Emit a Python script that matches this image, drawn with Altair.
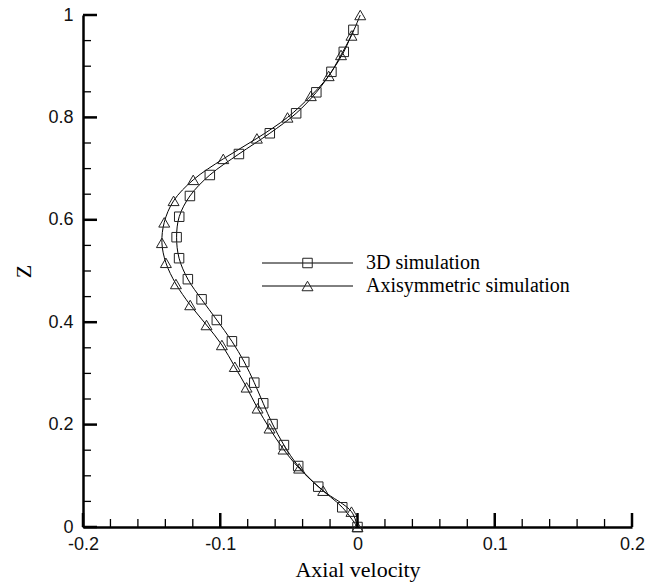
import altair as alt
import pandas as pd

# 3D simulation (squares)
z_3d = [0.0, 0.0385, 0.0788, 0.1191, 0.160, 0.201, 0.2416, 0.2819, 0.3223, 0.3627,
        0.4043, 0.4447, 0.484, 0.525, 0.566, 0.606, 0.6465, 0.6875, 0.7285, 0.769,
        0.808, 0.849, 0.889, 0.928, 0.971]
u_3d = [0.0, -0.0111, -0.0286, -0.0432, -0.0536, -0.0619, -0.0687, -0.0752, -0.0825, -0.0915,
        -0.1025, -0.1136, -0.1236, -0.1300, -0.1318, -0.1299, -0.1221, -0.1076, -0.0864, -0.0639,
        -0.0447, -0.0300, -0.0190, -0.0100, -0.0030]

# Axisymmetric simulation (triangles)
z_axi = [0.0, 0.030, 0.0709, 0.1146, 0.1518, 0.1928, 0.2318, 0.2728, 0.313, 0.3555,
         0.3945, 0.4336, 0.4746, 0.516, 0.555, 0.595, 0.637, 0.678, 0.719, 0.759,
         0.800, 0.842, 0.881, 0.922, 0.960, 1.0]
u_axi = [0.0, -0.0044, -0.0250, -0.0425, -0.0539, -0.0641, -0.0728, -0.0808, -0.0894, -0.0988,
         -0.1100, -0.1219, -0.1323, -0.1396, -0.1425, -0.1408, -0.1340, -0.1197, -0.0978, -0.0733,
         -0.0510, -0.0340, -0.0210, -0.0120, -0.0044, 0.002]

legend_labels = ["3D simulation", "Axisymmetric simulation"]

major_x = [-0.2, -0.1, 0.0, 0.1, 0.2]
minor_x = [-0.18, -0.16, -0.14, -0.12, -0.08, -0.06, -0.04, -0.02,
           0.02, 0.04, 0.06, 0.08, 0.12, 0.14, 0.16, 0.18]
major_y = [0.0, 0.2, 0.4, 0.6, 0.8, 1.0]
minor_y = [0.05, 0.1, 0.15, 0.25, 0.3, 0.35, 0.45, 0.5, 0.55, 0.65, 0.7, 0.75, 0.85, 0.9, 0.95]

W, H = 549, 512

df3 = pd.DataFrame({"u": u_3d, "z": z_3d})
dfa = pd.DataFrame({"u": u_axi, "z": z_axi})

xs = alt.Scale(domain=[-0.2, 0.2], nice=False, zero=False)
ys = alt.Scale(domain=[0, 1], nice=False, zero=False)

x_axis = alt.Axis(values=major_x, labelExpr="'' + datum.value", title="Axial velocity",
                  ticks=False, grid=False, labelPadding=8, labelFlush=False,
                  titleY=42, titleBaseline="middle")
y_axis = alt.Axis(values=major_y, labelExpr="'' + datum.value", title="Z",
                  ticks=False, grid=False, labelPadding=10, labelFlush=False,
                  titleAngle=270, titleX=-60, titleY=H / 2, titleBaseline="middle",
                  titleAlign="center")

X = lambda: alt.X("u:Q", scale=xs, axis=x_axis, title="Axial velocity")
Y = lambda: alt.Y("z:Q", scale=ys, axis=y_axis, title="Z")

line3 = alt.Chart(df3).mark_line(color="black", strokeWidth=1, interpolate="catmull-rom").encode(
    x=X(), y=Y(), order="z:Q")
linea = alt.Chart(dfa).mark_line(color="black", strokeWidth=1, interpolate="catmull-rom").encode(
    x=X(), y=Y(), order="z:Q")
pts3 = alt.Chart(df3).mark_point(shape="square", filled=False, size=90, color="#222",
                                 strokeWidth=1, opacity=1).encode(x=X(), y=Y())
ptsa = alt.Chart(dfa).mark_point(shape="triangle-up", filled=False, size=120, color="#222",
                                 strokeWidth=1, opacity=1).encode(x=X(), y=Y())

def xticks(vals, length, width):
    return alt.Chart(pd.DataFrame({"u": vals})).mark_rule(color="black", strokeWidth=width).encode(
        x=X(), y=alt.value(H), y2=alt.value(H - length))

def yticks(vals, length, width):
    return alt.Chart(pd.DataFrame({"z": vals})).mark_rule(color="black", strokeWidth=width).encode(
        y=Y(), x=alt.value(0), x2=alt.value(length))

ticks = [xticks(major_x, 14, 2.5), xticks(minor_x, 8, 1.3),
         yticks(major_y, 14, 2.5), yticks(minor_y, 8, 1.3)]

# legend
leg_rows = [248, 271]
leg_shapes = ["square", "triangle-up"]
leg_sizes = [90, 120]
legend_layers = []
for lab, yy, shp, sz in zip(legend_labels, leg_rows, leg_shapes, leg_sizes):
    d = pd.DataFrame({"label": [lab]})
    legend_layers.append(alt.Chart(d).mark_rule(color="black", strokeWidth=1).encode(
        x=alt.value(179), x2=alt.value(270), y=alt.value(yy)))
    legend_layers.append(alt.Chart(d).mark_point(shape=shp, filled=False, size=sz, color="#222",
                                                 strokeWidth=1, opacity=1).encode(
        x=alt.value(224.5), y=alt.value(yy)))
    legend_layers.append(alt.Chart(d).mark_text(align="left", baseline="middle",
                                                font="Liberation Serif", fontSize=20,
                                                color="black").encode(
        text="label:N", x=alt.value(283), y=alt.value(yy)))

chart = alt.layer(line3, linea, pts3, ptsa, *ticks, *legend_layers).properties(
    width=W, height=H,
    autosize=alt.AutoSizeParams(type="none"),
    padding={"left": 75, "top": 7, "right": 18, "bottom": 60},
).configure_view(stroke=None).configure_axis(
    domainColor="black", domainWidth=2.5,
    labelFont="Liberation Sans", labelFontSize=18, labelColor="#111",
    titleFont="Liberation Serif", titleFontSize=22, titleFontWeight="normal", titleColor="black",
)

chart.save("out.html", embed_options={"renderer": "svg", "actions": False})
